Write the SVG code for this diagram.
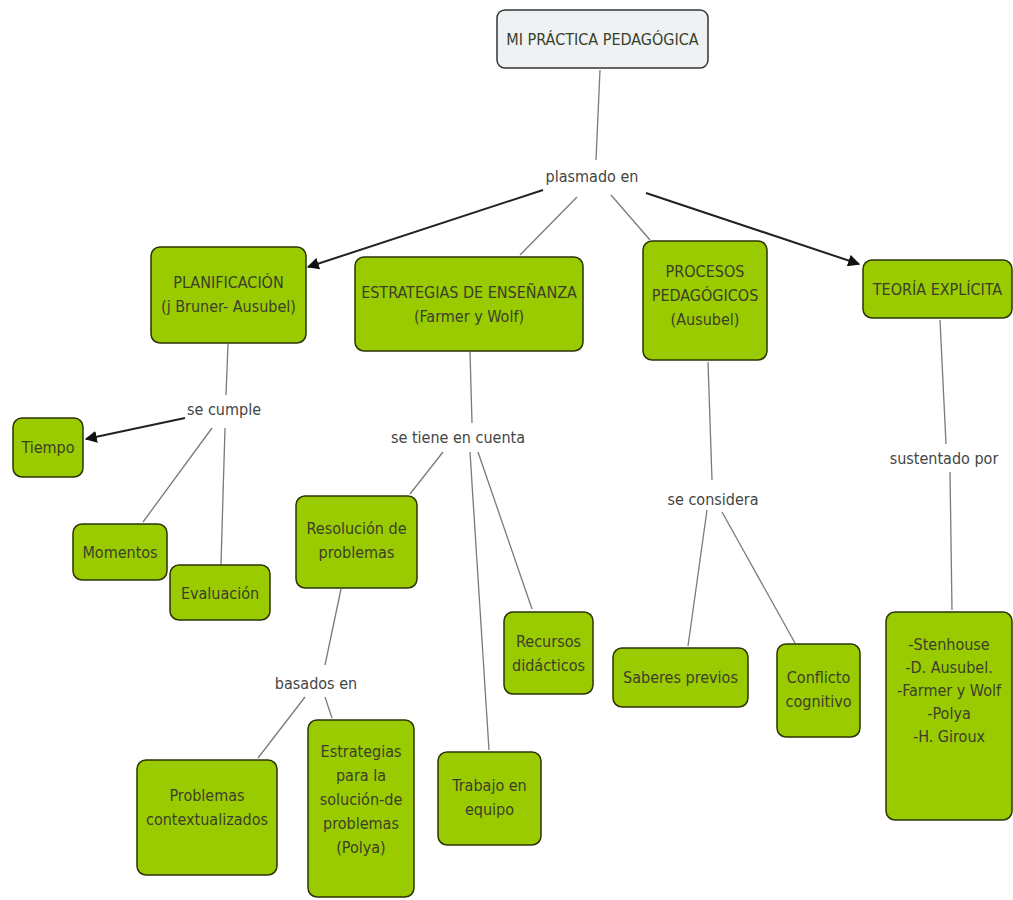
<svg xmlns="http://www.w3.org/2000/svg" width="1013" height="900" viewBox="0 0 1013 900">
<style>
.n{fill:#9acb00;stroke:#2b3300;stroke-width:1.5}
.t{fill:#eef2f5;stroke:#333;stroke-width:1.5}
text{font-family:"DejaVu Sans Condensed","DejaVu Sans",sans-serif;font-size:16px;fill:#3a3f2a;text-anchor:middle}
.l{fill:#444}
.c{stroke:#7a7a7a;stroke-width:1.3;fill:none}
.a{stroke:#222;stroke-width:2;fill:none;marker-end:url(#ah)}
</style>
<defs>
<marker id="ah" viewBox="0 0 10 10" refX="9" refY="5" markerWidth="6" markerHeight="6" orient="auto" markerUnits="strokeWidth">
<path d="M0,0 L10,5 L0,10 z" fill="#111"/>
</marker>
</defs>
<rect width="1013" height="900" fill="#fff"/>
<g id="connectors">
<line class="c" x1="600" y1="70" x2="596" y2="160"/>
<line class="a" x1="543" y1="190" x2="308" y2="267"/>
<line class="c" x1="577" y1="197" x2="520" y2="255"/>
<line class="c" x1="611" y1="195" x2="650" y2="240"/>
<line class="a" x1="646" y1="193" x2="859" y2="264"/>
<line class="c" x1="228" y1="344" x2="226" y2="395"/>
<line class="a" x1="185" y1="418" x2="86" y2="439"/>
<line class="c" x1="212" y1="428" x2="143" y2="522"/>
<line class="c" x1="225" y1="428" x2="221" y2="564"/>
<line class="c" x1="470" y1="352" x2="472" y2="423"/>
<line class="c" x1="443" y1="452" x2="410" y2="494"/>
<line class="c" x1="470" y1="452" x2="489" y2="750"/>
<line class="c" x1="478" y1="452" x2="532" y2="609"/>
<line class="c" x1="341" y1="589" x2="325" y2="665"/>
<line class="c" x1="305" y1="697" x2="258" y2="758"/>
<line class="c" x1="325" y1="697" x2="332" y2="718"/>
<line class="c" x1="708" y1="362" x2="712" y2="480"/>
<line class="c" x1="707" y1="510" x2="688" y2="646"/>
<line class="c" x1="722" y1="512" x2="795" y2="643"/>
<line class="c" x1="940" y1="320" x2="946" y2="444"/>
<line class="c" x1="950" y1="472" x2="952" y2="610"/>
</g>
<g id="labels">
<text class="l" x="592" y="182">plasmado en</text>
<text class="l" x="224" y="415">se cumple</text>
<text class="l" x="458" y="443">se tiene en cuenta</text>
<text class="l" x="713" y="505">se considera</text>
<text class="l" x="944" y="464">sustentado por</text>
<text class="l" x="316" y="689">basados en</text>
</g>
<g id="n-title"><rect class="t" x="497" y="10" width="211" height="58" rx="8"/><text x="602.5" y="45">MI PRÁCTICA PEDAGÓGICA</text></g>
<g id="n-plan"><rect class="n" x="151" y="247" width="155" height="96" rx="9"/><text x="228.5" y="288">PLANIFICACIÓN</text><text x="228.5" y="312">(j Bruner- Ausubel)</text></g>
<g id="n-estr"><rect class="n" x="355" y="257" width="228" height="94" rx="9"/><text x="469" y="298">ESTRATEGIAS DE ENSEÑANZA</text><text x="469" y="322">(Farmer y Wolf)</text></g>
<g id="n-proc"><rect class="n" x="643" y="241" width="124" height="119" rx="9"/><text x="705" y="277">PROCESOS</text><text x="705" y="301">PEDAGÓGICOS</text><text x="705" y="325">(Ausubel)</text></g>
<g id="n-teor"><rect class="n" x="863" y="260" width="149" height="58" rx="9"/><text x="937.5" y="295">TEORÍA EXPLÍCITA</text></g>
<g id="n-tiempo"><rect class="n" x="13" y="418" width="70" height="59" rx="9"/><text x="48" y="453">Tiempo</text></g>
<g id="n-mom"><rect class="n" x="73" y="524" width="94" height="56" rx="9"/><text x="120" y="558">Momentos</text></g>
<g id="n-eval"><rect class="n" x="170" y="565" width="100" height="55" rx="9"/><text x="220" y="599">Evaluación</text></g>
<g id="n-resol"><rect class="n" x="296" y="496" width="121" height="92" rx="9"/><text x="356.5" y="534">Resolución de</text><text x="356.5" y="558">problemas</text></g>
<g id="n-recur"><rect class="n" x="504" y="612" width="89" height="82" rx="9"/><text x="548.5" y="647">Recursos</text><text x="548.5" y="671">didácticos</text></g>
<g id="n-estpol"><rect class="n" x="308" y="720" width="106" height="177" rx="9"/><text x="361" y="757">Estrategias</text><text x="361" y="781">para la</text><text x="361" y="805">solución-de</text><text x="361" y="829">problemas</text><text x="361" y="853">(Polya)</text></g>
<g id="n-trab"><rect class="n" x="438" y="752" width="103" height="93" rx="9"/><text x="489.5" y="791">Trabajo en</text><text x="489.5" y="815">equipo</text></g>
<g id="n-probl"><rect class="n" x="137" y="760" width="140" height="115" rx="9"/><text x="207" y="801">Problemas</text><text x="207" y="825">contextualizados</text></g>
<g id="n-saber"><rect class="n" x="613" y="648" width="135" height="59" rx="9"/><text x="680.5" y="683">Saberes previos</text></g>
<g id="n-confl"><rect class="n" x="777" y="644" width="83" height="93" rx="9"/><text x="818.5" y="683">Conflicto</text><text x="818.5" y="707">cognitivo</text></g>
<g id="n-sten"><rect class="n" x="886" y="612" width="126" height="208" rx="9"/><text x="949" y="650">-Stenhouse</text><text x="949" y="673">-D. Ausubel.</text><text x="949" y="696">-Farmer y Wolf</text><text x="949" y="719">-Polya</text><text x="949" y="742">-H. Giroux</text></g>
</svg>
